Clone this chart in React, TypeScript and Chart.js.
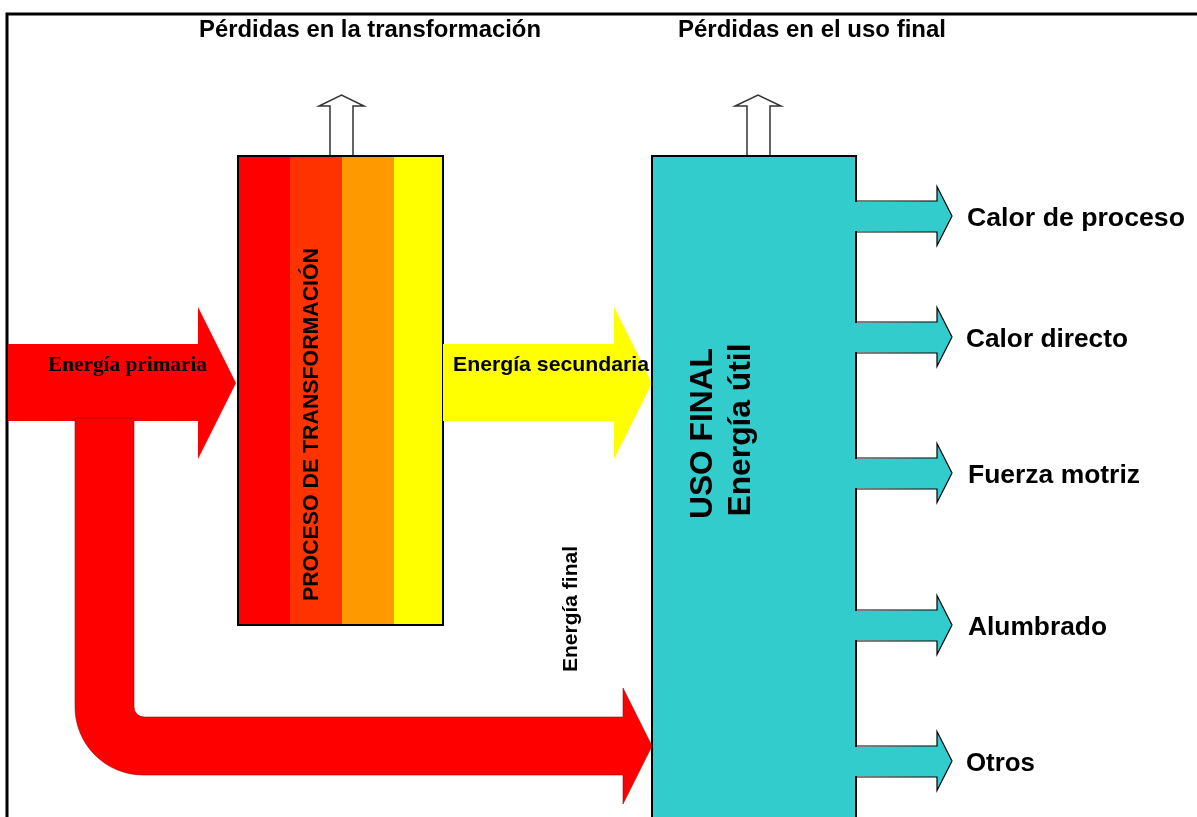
import React, { useEffect, useRef } from "react";
import { Chart, registerables } from "chart.js";

Chart.register(...registerables);

const W = 1197;
const H = 817;

// ---- text / data ----
const lossTitles = ["Pérdidas en la transformación", "Pérdidas en el uso final"];
const flowLabels = ["Energía primaria", "Energía secundaria", "Energía final"];
const processLabel = "PROCESO DE TRANSFORMACIÓN";
const usoLabels = ["USO FINAL", "Energía útil"];
const endUses = ["Calor de proceso", "Calor directo", "Fuerza motriz", "Alumbrado", "Otros"];
const endUseY = [216, 337, 473, 625, 761];
const stripeColors = ["#FF0000", "#FF3300", "#FF9900", "#FFFF00"];
const stripeEdges = [238, 290, 342, 394, 443];

// ---- layout ----
const endUseLabelX = [967, 966, 968, 968, 966];
const endUseLabelW = [218, 162, 172, 139, 69];
const transformBox = { x0: 238, x1: 443, y0: 156, y1: 625 };
const usoBox = { x0: 652, x1: 856, y0: 156, y1: 840 };
const lossArrows = [
  { b0: 330, b1: 353, h0: 319, h1: 364, tip: 95, base: 106, foot: 156 },
  { b0: 747, b1: 770, h0: 735, h1: 781, tip: 95, base: 106, foot: 156 },
];
const primaryArrow = { x0: 8, s0: 344, s1: 421, hx: 198, h0: 307, h1: 459, tx: 236, ty: 383 };
const secondaryArrow = { x0: 443, s0: 344, s1: 421, hx: 614, h0: 307, h1: 459, tx: 652, ty: 383 };
const bentArrow = { xl: 75, xr: 134, top: 418, yt: 717, yb: 775, rIn: 10, rOut: 68, hx: 623, h0: 688, h1: 804, tx: 652, ty: 746 };
const endArrow = { x0: 856, sx: 937, tx: 952, sHalfUp: 15, sHalfDn: 16, hHalf: 29.5 };
const SANS = '"Liberation Sans", Arial, sans-serif';
const SERIF = '"Liberation Serif", "Times New Roman", serif';

type Pt = [number, number];

const diagramPlugin = {
  id: "diagram",
  afterDraw(chart: any) {
    const ctx: CanvasRenderingContext2D = chart.ctx;
    const sx = chart.scales.x;
    const sy = chart.scales.y;
    const X = (v: number) => sx.getPixelForValue(v);
    const Y = (v: number) => sy.getPixelForValue(v);

    const path = (pts: Pt[], close: boolean) => {
      ctx.beginPath();
      pts.forEach(([a, b], i) => (i === 0 ? ctx.moveTo(X(a), Y(b)) : ctx.lineTo(X(a), Y(b))));
      if (close) ctx.closePath();
    };
    const fillPoly = (pts: Pt[], color: string) => {
      path(pts, true);
      ctx.fillStyle = color;
      ctx.fill();
    };
    const strokePoly = (pts: Pt[], color: string, lw: number, close: boolean) => {
      path(pts, close);
      ctx.strokeStyle = color;
      ctx.lineWidth = lw;
      ctx.lineJoin = "miter";
      ctx.stroke();
    };
    const text = (
      s: string,
      x: number,
      y: number,
      font: string,
      opt: { rotate?: boolean; align?: "left" | "center"; width?: number } = {}
    ) => {
      ctx.save();
      ctx.translate(X(x), Y(y));
      if (opt.rotate) ctx.rotate(-Math.PI / 2);
      ctx.font = font;
      ctx.textAlign = "left";
      ctx.textBaseline = "alphabetic";
      ctx.fillStyle = "#000";
      const w = ctx.measureText(s).width;
      const k = opt.width ? opt.width / w : 1;
      ctx.scale(k, 1);
      ctx.fillText(s, opt.align === "center" ? -w / 2 : 0, 0);
      ctx.restore();
    };

    ctx.save();
    // background
    ctx.fillStyle = "#fff";
    ctx.fillRect(X(0), Y(0), X(W) - X(0), Y(H) - Y(0));

    // frame
    ctx.strokeStyle = "#000";
    ctx.lineWidth = 3;
    ctx.beginPath();
    ctx.moveTo(X(7), Y(H + 5));
    ctx.lineTo(X(7), Y(14));
    ctx.lineTo(X(W + 5), Y(14));
    ctx.stroke();

    // titles
    text(lossTitles[0], 199, 37, `bold 24px ${SANS}`, { width: 342 });
    text(lossTitles[1], 678, 37, `bold 24px ${SANS}`, { width: 268 });

    // hollow loss arrows
    lossArrows.forEach((a) => {
      const pts: Pt[] = [
        [a.b0, a.foot],
        [a.b0, a.base],
        [a.h0, a.base],
        [(a.h0 + a.h1) / 2, a.tip],
        [a.h1, a.base],
        [a.b1, a.base],
        [a.b1, a.foot],
      ];
      fillPoly(pts, "#fff");
      strokePoly(pts, "#333", 1.5, false);
    });

    // transformation box stripes
    for (let i = 0; i < stripeColors.length; i++) {
      ctx.fillStyle = stripeColors[i];
      ctx.fillRect(
        X(stripeEdges[i]),
        Y(transformBox.y0),
        X(stripeEdges[i + 1]) - X(stripeEdges[i]),
        Y(transformBox.y1) - Y(transformBox.y0)
      );
    }
    ctx.strokeStyle = "#000";
    ctx.lineWidth = 2;
    ctx.strokeRect(
      X(transformBox.x0),
      Y(transformBox.y0),
      X(transformBox.x1) - X(transformBox.x0),
      Y(transformBox.y1) - Y(transformBox.y0)
    );

    // straight arrows
    const straight = (a: typeof primaryArrow, color: string) => {
      fillPoly(
        [
          [a.x0, a.s0],
          [a.hx, a.s0],
          [a.hx, a.h0],
          [a.tx, a.ty],
          [a.hx, a.h1],
          [a.hx, a.s1],
          [a.x0, a.s1],
        ],
        color
      );
    };
    straight(primaryArrow, "#FF0000");
    straight(secondaryArrow, "#FFFF00");

    // bent arrow (energía final)
    const b = bentArrow;
    ctx.beginPath();
    ctx.moveTo(X(b.xl), Y(b.top));
    ctx.lineTo(X(b.xr), Y(b.top));
    ctx.lineTo(X(b.xr), Y(b.yt - b.rIn));
    ctx.arc(X(b.xr + b.rIn), Y(b.yt - b.rIn), b.rIn, Math.PI, Math.PI / 2, true);
    ctx.lineTo(X(b.hx), Y(b.yt));
    ctx.lineTo(X(b.hx), Y(b.h0));
    ctx.lineTo(X(b.tx), Y(b.ty));
    ctx.lineTo(X(b.hx), Y(b.h1));
    ctx.lineTo(X(b.hx), Y(b.yb));
    ctx.lineTo(X(b.xl + b.rOut), Y(b.yb));
    ctx.arc(X(b.xl + b.rOut), Y(b.yb - b.rOut), b.rOut, Math.PI / 2, Math.PI, false);
    ctx.closePath();
    ctx.fillStyle = "#FF0000";
    ctx.fill();
    ctx.strokeStyle = "rgba(150,0,0,0.55)";
    ctx.lineWidth = 1;
    ctx.stroke();

    // uso final box
    ctx.fillStyle = "#33CCCC";
    ctx.fillRect(X(usoBox.x0), Y(usoBox.y0), X(usoBox.x1) - X(usoBox.x0), Y(usoBox.y1) - Y(usoBox.y0));
    ctx.strokeStyle = "#000";
    ctx.lineWidth = 2;
    ctx.strokeRect(X(usoBox.x0), Y(usoBox.y0), X(usoBox.x1) - X(usoBox.x0), Y(usoBox.y1) - Y(usoBox.y0));

    // end-use arrows
    const e = endArrow;
    endUseY.forEach((ty, i) => {
      const pts: Pt[] = [
        [e.x0, ty - e.sHalfUp],
        [e.sx, ty - e.sHalfUp],
        [e.sx, ty - e.hHalf],
        [e.tx, ty],
        [e.sx, ty + e.hHalf],
        [e.sx, ty + e.sHalfDn],
        [e.x0, ty + e.sHalfDn],
      ];
      fillPoly([[e.x0 - 2, ty - e.sHalfUp + 1], ...pts.slice(1, 6), [e.x0 - 2, ty + e.sHalfDn - 1]], "#33CCCC");
      strokePoly(pts, "#000", 1.2, false);
      text(endUses[i], endUseLabelX[i], ty + 10, `bold 26px ${SANS}`, { width: endUseLabelW[i] });
    });

    // labels
    text(flowLabels[0], 48, 371, `bold 21px ${SERIF}`, { width: 159 });
    text(flowLabels[1], 453, 371, `bold 21px ${SANS}`, { width: 196 });
    text(flowLabels[2], 577, 609, `bold 21px ${SANS}`, { rotate: true, align: "center", width: 126 });
    text(processLabel, 317.5, 424.5, `bold 22px ${SANS}`, { rotate: true, align: "center", width: 353 });
    text(usoLabels[0], 712, 433.5, `bold 32px ${SANS}`, { rotate: true, align: "center", width: 171 });
    text(usoLabels[1], 750, 430, `bold 32px ${SANS}`, { rotate: true, align: "center", width: 173 });

    ctx.restore();
  },
};

export default function App() {
  const ref = useRef<HTMLCanvasElement | null>(null);
  useEffect(() => {
    if (!ref.current) return;
    const chart = new Chart(ref.current, {
      type: "scatter",
      data: { datasets: [] },
      options: {
        animation: false,
        responsive: false,
        devicePixelRatio: 1,
        events: [],
        layout: { padding: 0 },
        plugins: { legend: { display: false }, tooltip: { enabled: false }, title: { display: false } },
        scales: {
          x: { type: "linear", min: 0, max: W, display: false },
          y: { type: "linear", min: 0, max: H, reverse: true, display: false },
        },
      },
      plugins: [diagramPlugin],
    } as any);
    return () => chart.destroy();
  }, []);
  return (
    <div style={{ position: "fixed", left: 0, top: 0, width: W, height: H, background: "#fff" }}>
      <canvas ref={ref} width={W} height={H} style={{ display: "block", width: W, height: H }} />
    </div>
  );
}
